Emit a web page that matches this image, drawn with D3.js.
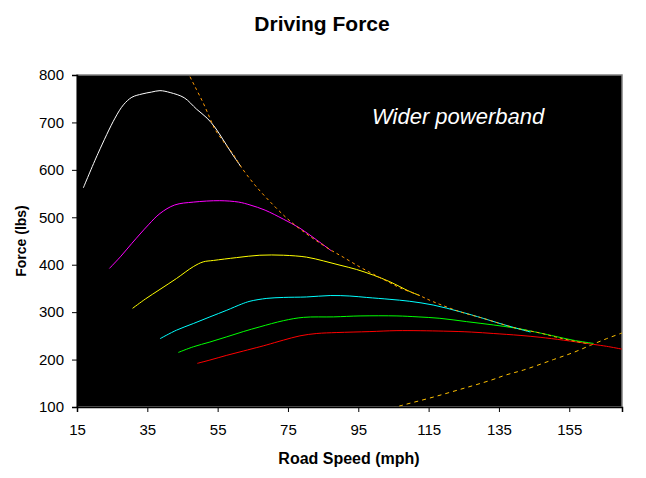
<!DOCTYPE html>
<html>
<head>
<meta charset="utf-8">
<script src="https://cdn.jsdelivr.net/npm/d3@7/dist/d3.min.js"></script>
<style>
  html, body { margin: 0; padding: 0; background: #ffffff; }
  svg { display: block; }
  text { font-family: Arial, "Liberation Sans", sans-serif; }
</style>
</head>
<body>
<div id="chart"></div>
<script>
// ---- data ----
const speedTicks = [15, 35, 55, 75, 95, 115, 135, 155];
const forceTicks = [100, 200, 300, 400, 500, 600, 700, 800];

const gear1Speed = [16.8, 21, 25.8, 28.2, 30.6, 33.5, 36.2, 38.6, 41.5, 45.5, 49, 52, 54.2, 56.6, 59, 61.6];
const gear1Force = [562, 635, 709, 737, 753, 760, 764, 767, 763, 752, 728, 709, 690, 663, 635, 607];

const gear2Speed = [24.2, 27.5, 30.6, 35.3, 38.6, 42.8, 48.1, 55.6, 61, 64.2, 68.5, 73.7, 78.4, 83.2, 87.4];
const gear2Force = [392, 418, 445, 484, 508, 526, 532, 535, 532, 526, 515, 496, 477, 452, 429];

const gear3Speed = [30.8, 34.5, 38.6, 43.3, 48.1, 50.9, 53.8, 60.4, 67, 73.7, 80.3, 85.1, 89.8, 94.5, 99.3, 104, 109.5, 112.5];
const gear3Force = [308, 328, 348, 371, 396, 406, 409, 415, 420, 420, 416, 408, 399, 390, 378, 364, 344, 335];

const gear4Speed = [38.6, 43.3, 48.1, 52.8, 57.6, 61.8, 64.2, 69, 73.7, 80.3, 87, 92.6, 97.4, 104, 109.5, 116.3, 123.9, 130.5, 135.3, 140, 144];
const gear4Force = [244, 262, 276, 290, 304, 317, 323, 329, 331, 332, 335, 334, 331, 327, 323, 315, 301, 287, 276, 266, 258];

const gear5Speed = [43.8, 48.1, 52.8, 57.6, 62.3, 67, 73.7, 79.4, 88, 95.5, 106, 112, 118.2, 125.8, 133.4, 140, 146.7, 151, 156, 161.9];
const gear5Force = [215, 227, 237, 248, 259, 269, 282, 289, 290, 292, 292, 290, 287, 280, 273, 266, 256, 249, 241, 234];

const gear6Speed = [49.2, 52.8, 57.6, 62.3, 67, 69, 73.7, 78.4, 83.2, 88.9, 98.3, 106, 119.2, 127.2, 133.4, 141, 146.7, 153.3, 161.9, 165.6, 170];
const gear6Force = [192, 199, 209, 218, 227, 231, 241, 250, 255, 257, 259, 261, 260, 258, 255, 251, 247, 241, 232, 228, 222];

const idealSpeed = [45, 47.1, 49, 50.9, 52.8, 54.2, 56.6, 59.5, 61.6, 65.6, 70.8, 75.6, 80.3, 83.2, 87.4, 90.7, 95.5, 99.3, 104, 106.9, 112.1, 116.3, 123.9, 130.5, 135.3, 140, 146.7, 152, 157, 160];
const idealForce = [831, 797, 769, 741, 709, 686, 660, 632, 607, 568, 526, 492, 465, 450, 430, 416, 395, 380, 362, 351, 336, 322, 301, 287, 276, 266, 256, 246, 238, 234];

const dragSpeed = [100, 107.2, 115.4, 123.9, 132.5, 137.2, 142, 150.5, 156.2, 161, 165.6, 170];
const dragForce = [88, 103, 119, 137, 156, 168, 178, 200, 215, 230, 244, 256];

const gearColors = ["#ffffff", "#ff00ff", "#ffff00", "#00ffff", "#00ff00", "#ff0000"];

(function () {
// ---- layout ----
const W = 646, H = 478;
const pL = 77, pR = 622, pT = 75, pB = 407;

const svg = d3.select("#chart").append("svg")
  .attr("width", W).attr("height", H);

svg.append("rect").attr("width", W).attr("height", H).attr("fill", "#ffffff");

const x = d3.scaleLinear().domain([15, 170]).range([pL, pR]);
const y = d3.scaleLinear().domain([100, 800]).range([pB, pT]);

// plot area
svg.append("rect")
  .attr("x", pL).attr("y", pT)
  .attr("width", pR - pL).attr("height", pB - pT)
  .attr("fill", "#000000")
  .attr("stroke", "#808080").attr("stroke-width", 1.5);

svg.append("clipPath").attr("id", "plotclip")
  .append("rect").attr("x", pL).attr("y", pT)
  .attr("width", pR - pL).attr("height", pB - pT);

const g = svg.append("g").attr("clip-path", "url(#plotclip)");

const line = d3.line()
  .x(d => x(d[0])).y(d => y(d[1]))
  .curve(d3.curveCatmullRom.alpha(0.5));

const zip = (a, b) => a.map((v, i) => [v, b[i]]);

// dashed drag curve
g.append("path")
  .datum(zip(dragSpeed, dragForce))
  .attr("d", line).attr("fill", "none")
  .attr("stroke", "#ffc000").attr("stroke-width", 1)
  .attr("stroke-dasharray", "4,4");

const gears = [
  zip(gear6Speed, gear6Force),
  zip(gear5Speed, gear5Force),
  zip(gear4Speed, gear4Force),
  zip(gear3Speed, gear3Force),
  zip(gear2Speed, gear2Force),
  zip(gear1Speed, gear1Force)
];
const gearCol = [gearColors[5], gearColors[4], gearColors[3], gearColors[2], gearColors[1], gearColors[0]];

g.selectAll("path.gear").data(gears).enter().append("path")
  .attr("class", "gear")
  .attr("d", line).attr("fill", "none")
  .attr("stroke", (d, i) => gearCol[i]).attr("stroke-width", 1);

g.append("path")
  .datum(zip(idealSpeed, idealForce))
  .attr("d", line).attr("fill", "none")
  .attr("stroke", "#ff9900").attr("stroke-width", 1)
  .attr("stroke-dasharray", "3,3");

// axes
const xAxis = svg.append("g")
  .attr("transform", `translate(0,${pB})`)
  .call(d3.axisBottom(x).tickValues(speedTicks).tickSize(5).tickPadding(12).tickFormat(d3.format("d")));
const yAxis = svg.append("g")
  .attr("transform", `translate(${pL},0)`)
  .call(d3.axisLeft(y).tickValues(forceTicks).tickSize(5).tickPadding(8).tickFormat(d3.format("d")));

[xAxis, yAxis].forEach(a => {
  a.select(".domain").attr("stroke", "#000").attr("stroke-width", 1.5);
  a.selectAll(".tick line").attr("stroke", "#000");
  a.selectAll(".tick text")
    .attr("fill", "#000")
    .style("font-family", "Arial, 'Liberation Sans', sans-serif")
    .style("font-size", "15px");
});

// titles
svg.append("text")
  .attr("x", 322).attr("y", 31)
  .attr("text-anchor", "middle")
  .style("font-size", "21px").style("font-weight", "bold")
  .text("Driving Force");

svg.append("text")
  .attr("x", 349).attr("y", 464)
  .attr("text-anchor", "middle")
  .style("font-size", "16px").style("font-weight", "bold")
  .text("Road Speed (mph)");

svg.append("text")
  .attr("transform", "translate(26,241) rotate(-90)")
  .attr("text-anchor", "middle")
  .style("font-size", "14px").style("font-weight", "bold")
  .text("Force (lbs)");

svg.append("text")
  .attr("x", 372).attr("y", 124)
  .attr("fill", "#ffffff")
  .style("font-size", "22px").style("font-style", "italic")
  .text("Wider powerband");
})();
</script>
</body>
</html>
